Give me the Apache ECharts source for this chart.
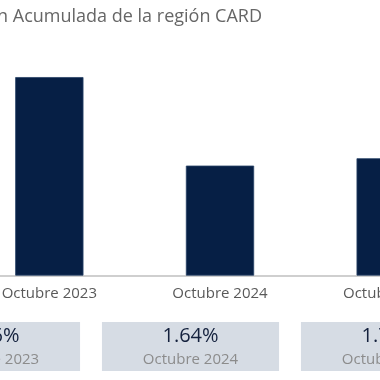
<!DOCTYPE html>
<html>
<head>
<meta charset="utf-8">
<script src="https://cdn.jsdelivr.net/npm/echarts@6/dist/echarts.min.js"></script>
<style>html,body{margin:0;padding:0;background:#fff;}#c{width:380px;height:380px;}</style>
</head>
<body>
<div id="c"></div>
<script>
const titleText = 'Inflación Acumulada de la región CARD';
const categories = ['Octubre 2023', 'Octubre 2024', 'Octubre 2025'];
const inflation = [2.96, 1.64, 1.75];
const cardCategories = ['Octubre 2023', 'Octubre 2024', 'Octubre 2025'];
const cardValues = [2.96, 1.64, 1.75];

const FONT = 'Open Sans';
const chart = echarts.init(document.getElementById('c'));
chart.setOption({
  animation: false,
  title: {
    text: titleText,
    right: 118, top: 8, padding: 0,
    textStyle: {fontFamily: FONT, fontSize: 18, fontWeight: 'normal', color: '#666666'}
  },
  grid: [
    {left: -36, right: -96, top: 74.4, bottom: 104.4, outerBoundsMode: 'none', containLabel: false},
    {left: -108, right: -109, top: 322, height: 49, outerBoundsMode: 'none', containLabel: false}
  ],
  xAxis: [
    {
      type: 'category', gridIndex: 0, data: categories,
      axisLine: {show: true, lineStyle: {color: '#bfbfbf', width: 1.5}},
      axisTick: {show: false},
      axisLabel: {fontFamily: FONT, fontSize: 15, color: '#595959', margin: 11}
    },
    {
      type: 'category', gridIndex: 1, data: cardCategories,
      show: false
    }
  ],
  yAxis: [
    {type: 'value', gridIndex: 0, min: 0, max: 3, show: false},
    {type: 'value', gridIndex: 1, min: 0, max: 1, show: false}
  ],
  series: [
    {
      type: 'bar', xAxisIndex: 0, yAxisIndex: 0, data: inflation,
      barWidth: '40%',
      itemStyle: {color: '#061f45', borderColor: '#2a4468', borderWidth: 0.8}
    },
    {
      type: 'custom', xAxisIndex: 1, yAxisIndex: 1,
      data: cardValues.map((v, i) => [i, v]),
      renderItem: function (params, api) {
        const idx = api.value(0);
        const x = api.coord([idx, 0])[0];
        const band = api.size([1, 0])[0];
        const w = band * 0.89;
        const cs = params.coordSys;
        return {
          type: 'group',
          children: [
            {type: 'rect', shape: {x: x - w / 2, y: cs.y, width: w, height: cs.height},
             style: {fill: '#d6dce4'}},
            {type: 'text', x: x, y: cs.y + 14,
             style: {text: api.value(1).toFixed(2) + '%', align: 'center', verticalAlign: 'middle',
                     fontFamily: FONT, fontSize: 20, fill: '#14213d'}},
            {type: 'text', x: x, y: cs.y + 37.5,
             style: {text: cardCategories[idx], align: 'center', verticalAlign: 'middle',
                     fontFamily: FONT, fontSize: 15, fill: '#8c8c8c'}}
          ]
        };
      }
    }
  ]
});
</script>
</body>
</html>
